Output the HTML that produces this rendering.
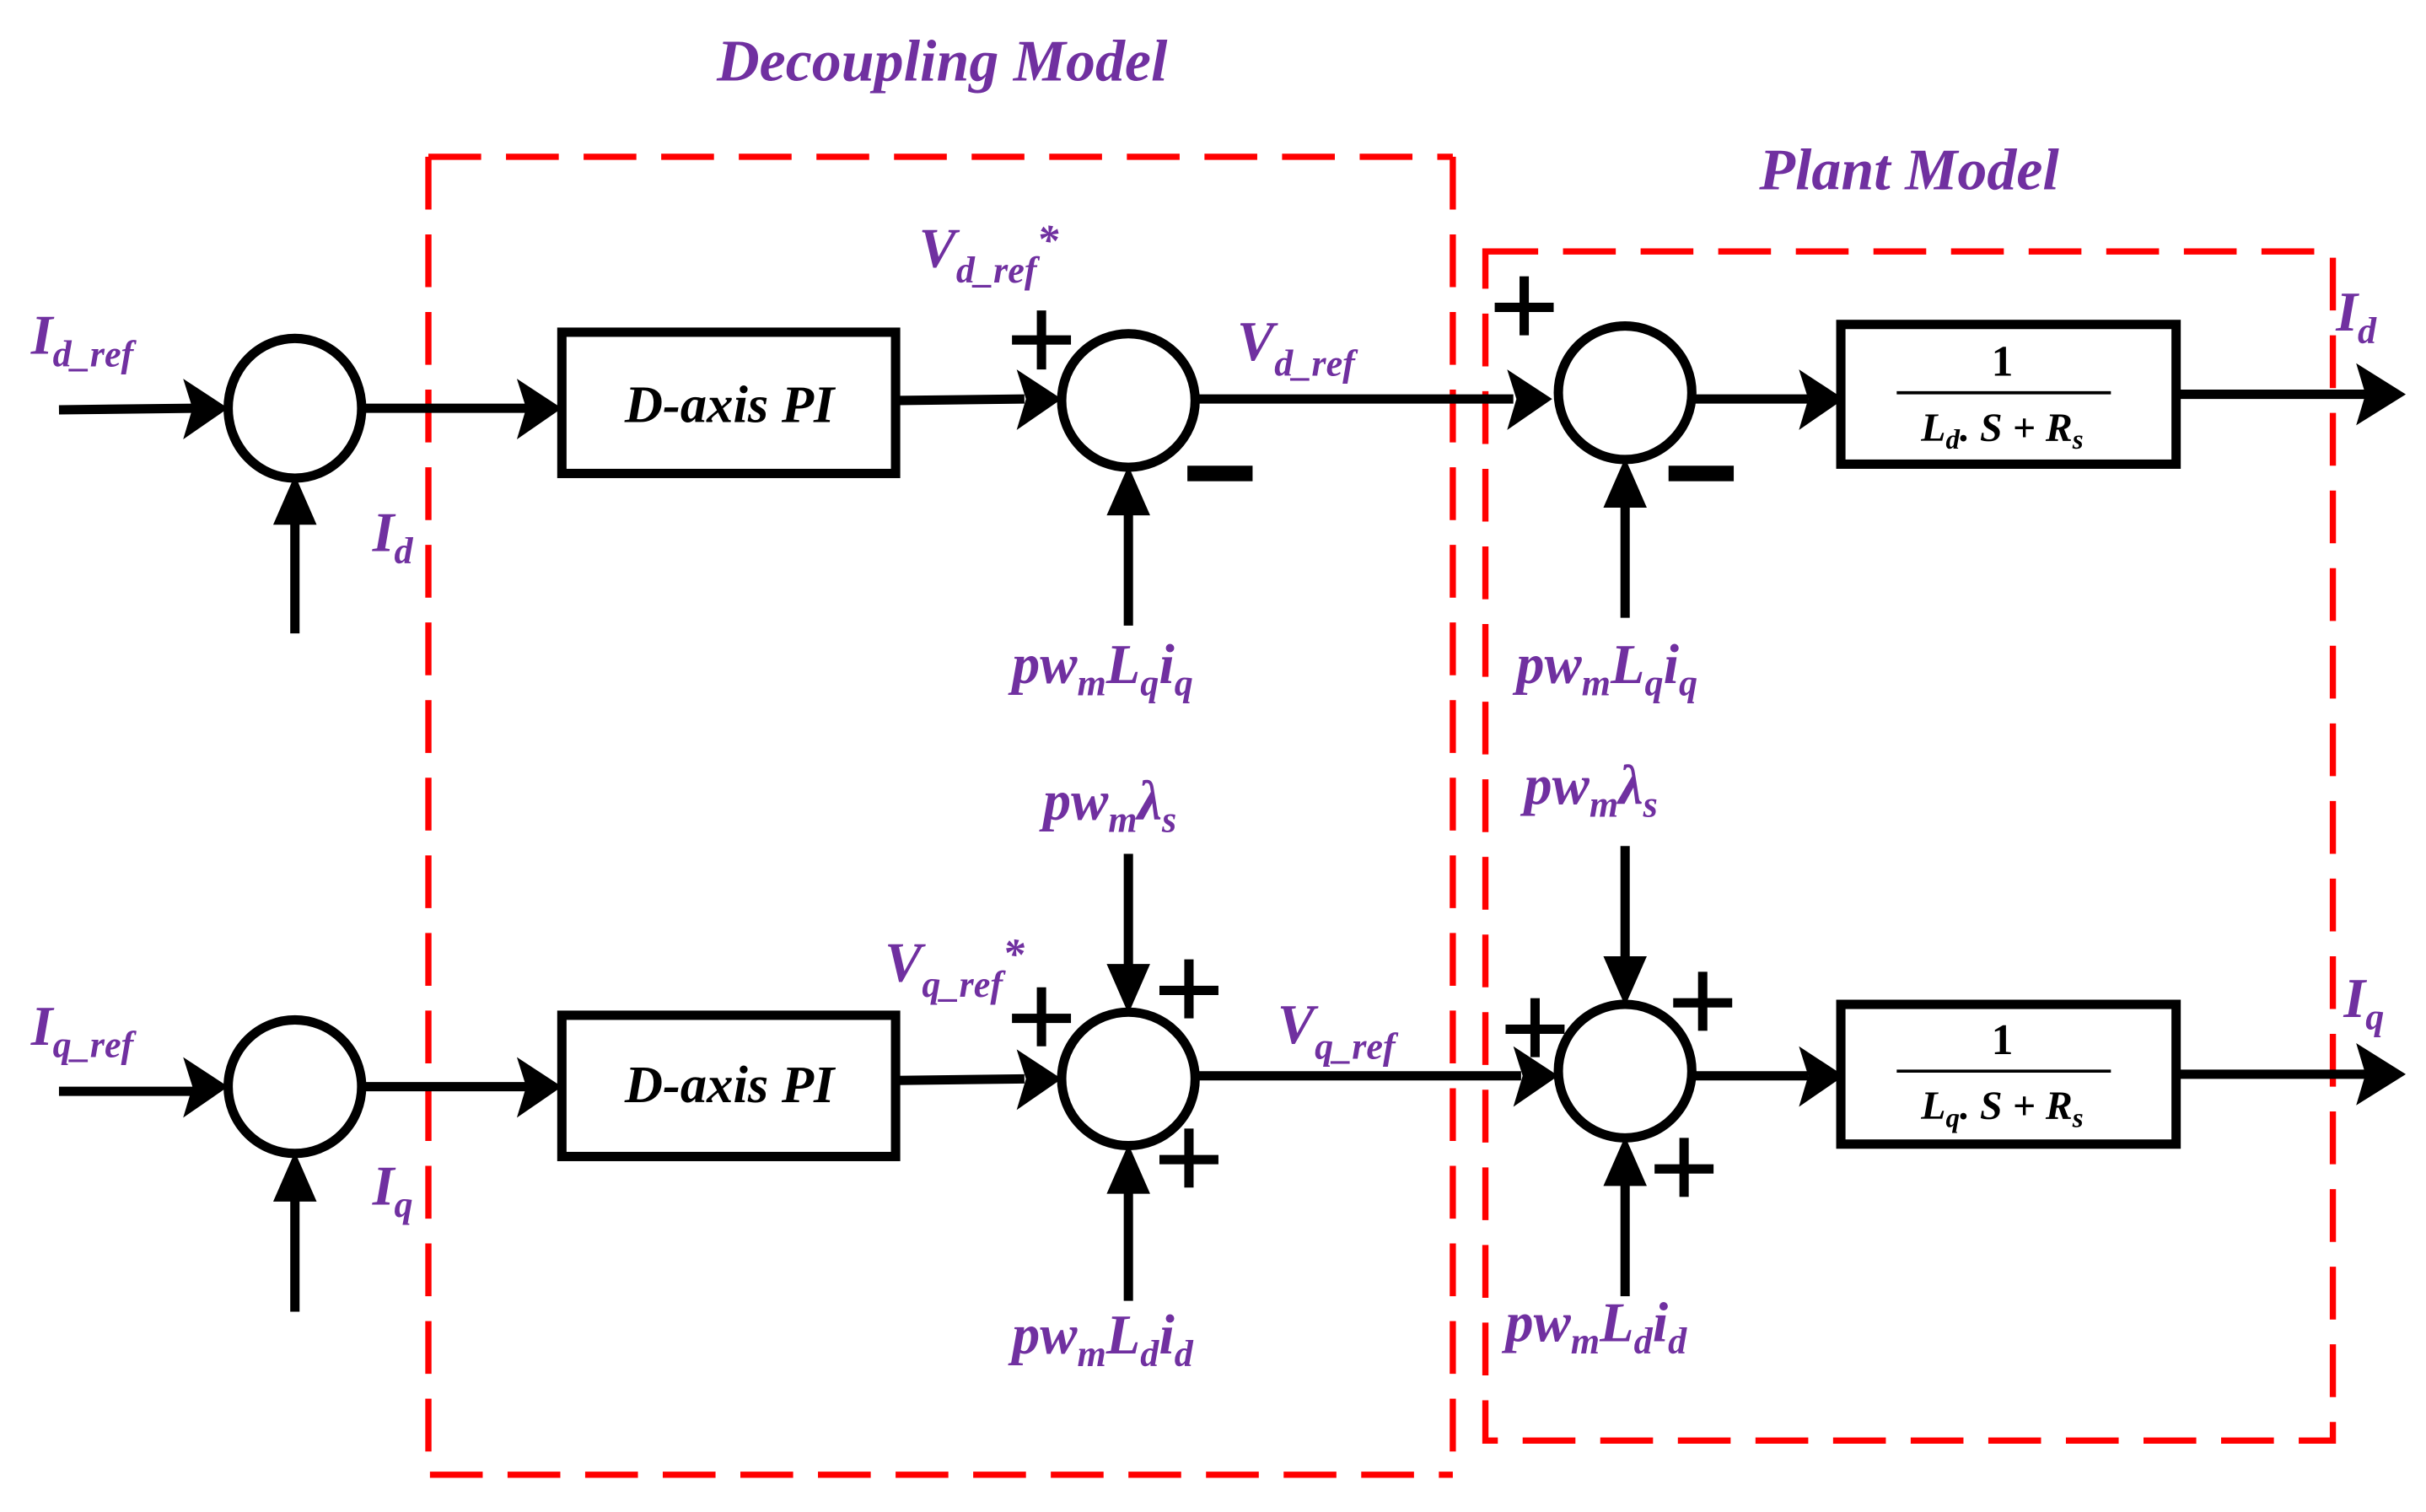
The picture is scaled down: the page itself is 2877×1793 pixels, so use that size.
<!DOCTYPE html>
<html><head><meta charset="utf-8"><style>
html,body{margin:0;padding:0;background:#fff;}
svg{display:block;}
.t{font-family:"Liberation Serif","DejaVu Serif",serif;font-weight:bold;font-style:italic;fill:#7030A0;}
.k{font-family:"Liberation Serif","DejaVu Serif",serif;font-weight:bold;font-style:italic;fill:#000;}
.m{font-family:"Liberation Serif","DejaVu Serif",serif;font-weight:bold;fill:#000;}
</style></head><body>
<svg width="2877" height="1793" viewBox="0 0 1563 974" preserveAspectRatio="none" xmlns="http://www.w3.org/2000/svg">
<g fill="none" stroke="#f00" stroke-width="4" stroke-dasharray="34,16">
<path d="M276,101 H936"/>
<path d="M276,101 V950 H936"/>
<path d="M936,101 V950"/>
<path d="M957,162 H1503 V928 H957 Z"/>
</g>
<text class="t" x="607" y="52" font-size="38" text-anchor="middle">Decoupling Model</text>
<text class="t" x="1230" y="122" font-size="38" text-anchor="middle">Plant Model</text>

<g stroke="#000" stroke-width="6" fill="none">
<ellipse cx="190" cy="263" rx="43" ry="45"/>
<line x1="38" y1="264" x2="125" y2="263"/>
<line x1="190" y1="408" x2="190" y2="330"/>
<line x1="233" y1="263" x2="340" y2="263"/>
<rect x="362" y="214" width="215" height="91"/>
<line x1="578" y1="258" x2="660" y2="257"/>
<ellipse cx="727" cy="258" rx="43" ry="43"/>
<line x1="727" y1="403" x2="727" y2="323"/>
<line x1="770" y1="257" x2="975" y2="257"/>
<ellipse cx="1047" cy="253" rx="43" ry="43"/>
<line x1="1047" y1="398" x2="1047" y2="318"/>
<line x1="1090" y1="257" x2="1165" y2="257"/>
<rect x="1186" y="209" width="216" height="90"/>
<line x1="1403" y1="254" x2="1525" y2="254"/>
<ellipse cx="190" cy="700" rx="43" ry="43"/>
<line x1="38" y1="703" x2="125" y2="703"/>
<line x1="190" y1="845" x2="190" y2="765"/>
<line x1="233" y1="700" x2="340" y2="700"/>
<rect x="362" y="654" width="215" height="91"/>
<line x1="578" y1="696" x2="660" y2="695"/>
<ellipse cx="727" cy="695" rx="43" ry="43"/>
<line x1="727" y1="550" x2="727" y2="630"/>
<line x1="727" y1="838" x2="727" y2="760"/>
<line x1="770" y1="693" x2="980" y2="693"/>
<ellipse cx="1047" cy="690" rx="43" ry="43"/>
<line x1="1047" y1="545" x2="1047" y2="625"/>
<line x1="1047" y1="835" x2="1047" y2="755"/>
<line x1="1090" y1="693" x2="1165" y2="693"/>
<rect x="1186" y="647" width="216" height="90"/>
<line x1="1403" y1="692" x2="1525" y2="692"/>
</g>
<g fill="#000">
<polygon points="147,263 118,244 124,263 118,283"/>
<polygon points="190,306 176,338 204,338"/>
<polygon points="362,263 333,244 339,263 333,283"/>
<polygon points="684,257 655,238 661,257 655,277"/>
<polygon points="727,300 713,332 741,332"/>
<polygon points="1000,257 971,238 977,257 971,277"/>
<polygon points="1047,295 1033,327 1061,327"/>
<polygon points="1188,257 1159,238 1165,257 1159,277"/>
<polygon points="1550,254 1518,234 1524,254 1518,274"/>

<polygon points="147,700 118,681 124,700 118,720"/>
<polygon points="190,742 176,774 204,774"/>
<polygon points="362,700 333,681 339,700 333,720"/>
<polygon points="684,695 655,676 661,695 655,715"/>
<polygon points="727,653 713,621 741,621"/>
<polygon points="727,737 713,769 741,769"/>
<polygon points="1004,693 975,674 981,693 975,713"/>
<polygon points="1047,648 1033,616 1061,616"/>
<polygon points="1047,732 1033,764 1061,764"/>
<polygon points="1188,693 1159,674 1165,693 1159,713"/>
<polygon points="1550,692 1518,672 1524,692 1518,712"/>
<rect x="652" y="216" width="38" height="6"/><rect x="668" y="200" width="6" height="38"/>
<rect x="765" y="300" width="42" height="10"/>
<rect x="963" y="195" width="38" height="6"/><rect x="979" y="178" width="6" height="38"/>
<rect x="1075" y="300" width="42" height="10"/>
<rect x="652" y="653" width="38" height="6"/><rect x="668" y="636" width="6" height="38"/>
<rect x="747" y="635" width="38" height="6"/><rect x="763" y="618" width="6" height="38"/>
<rect x="747" y="744" width="38" height="6"/><rect x="763" y="727" width="6" height="38"/>
<rect x="970" y="660" width="38" height="6"/><rect x="986" y="643" width="6" height="38"/>
<rect x="1078" y="643" width="38" height="6"/><rect x="1094" y="626" width="6" height="38"/>
<rect x="1066" y="750" width="38" height="6"/><rect x="1082" y="733" width="6" height="38"/>
</g>
<line x1="1222" y1="253" x2="1360" y2="253" stroke="#000" stroke-width="2"/>
<line x1="1222" y1="690" x2="1360" y2="690" stroke="#000" stroke-width="2"/>
<text class="k" x="470" y="272" font-size="34" text-anchor="middle">D-axis PI</text>
<text class="k" x="470" y="710" font-size="34" text-anchor="middle">D-axis PI</text>
<text class="m" x="1290" y="242" font-size="28" text-anchor="middle">1</text>
<text class="k" x="1290" y="284" font-size="26" text-anchor="middle">L<tspan font-size="18" dy="5">d</tspan><tspan dy="-5">. S + R</tspan><tspan font-size="18" dy="5">s</tspan></text>
<text class="m" x="1290" y="679" font-size="28" text-anchor="middle">1</text>
<text class="k" x="1290" y="721" font-size="26" text-anchor="middle">L<tspan font-size="18" dy="5">q</tspan><tspan dy="-5">. S + R</tspan><tspan font-size="18" dy="5">s</tspan></text>

<g class="t" font-size="36">
<text x="20" y="228">I<tspan font-size="24" dy="8">d_ref</tspan></text>
<text x="240" y="355">I<tspan font-size="24" dy="8">d</tspan></text>
<text x="592" y="172">V<tspan font-size="24" dy="10">d_ref</tspan><tspan font-size="28" dy="-18">*</tspan></text>
<text x="797" y="232">V<tspan font-size="24" dy="10">d_ref</tspan></text>
<text x="652" y="440">pw<tspan font-size="24" dy="8">m</tspan><tspan dy="-8">L</tspan><tspan font-size="24" dy="8">q</tspan><tspan dy="-8">i</tspan><tspan font-size="24" dy="8">q</tspan></text>
<text x="977" y="440">pw<tspan font-size="24" dy="8">m</tspan><tspan dy="-8">L</tspan><tspan font-size="24" dy="8">q</tspan><tspan dy="-8">i</tspan><tspan font-size="24" dy="8">q</tspan></text>
<text x="1505" y="213">I<tspan font-size="24" dy="8">d</tspan></text>
<text x="20" y="673">I<tspan font-size="24" dy="8">q_ref</tspan></text>
<text x="240" y="776">I<tspan font-size="24" dy="8">q</tspan></text>
<text x="570" y="632">V<tspan font-size="24" dy="10">q_ref</tspan><tspan font-size="28" dy="-18">*</tspan></text>
<text x="823" y="672">V<tspan font-size="24" dy="10">q_ref</tspan></text>
<text x="672" y="528">pw<tspan font-size="24" dy="8">m</tspan><tspan dy="-8">λ</tspan><tspan font-size="24" dy="8">s</tspan></text>
<text x="982" y="518">pw<tspan font-size="24" dy="8">m</tspan><tspan dy="-8">λ</tspan><tspan font-size="24" dy="8">s</tspan></text>
<text x="652" y="872">pw<tspan font-size="24" dy="8">m</tspan><tspan dy="-8">L</tspan><tspan font-size="24" dy="8">d</tspan><tspan dy="-8">i</tspan><tspan font-size="24" dy="8">d</tspan></text>
<text x="970" y="864">pw<tspan font-size="24" dy="8">m</tspan><tspan dy="-8">L</tspan><tspan font-size="24" dy="8">d</tspan><tspan dy="-8">i</tspan><tspan font-size="24" dy="8">d</tspan></text>
<text x="1510" y="655">I<tspan font-size="24" dy="8">q</tspan></text>
</g>
</svg>
</body></html>
